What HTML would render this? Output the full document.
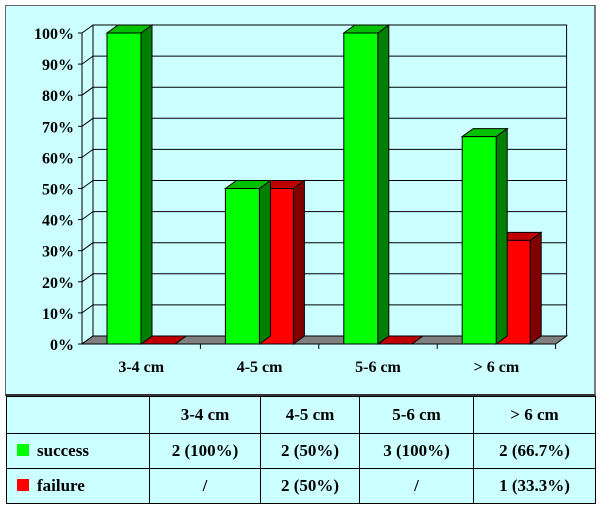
<!DOCTYPE html>
<html><head><meta charset="utf-8"><style>
body{margin:0;width:600px;height:505px;background:#fff;font-family:"Liberation Serif",serif;position:relative;overflow:hidden}
#chartbox{position:absolute;left:5px;top:5px;width:588px;height:388px;background:#ccffff;border:1px solid #666;border-right:2px solid #777;border-bottom:2px solid #333}
svg{position:absolute;left:0;top:0}
table{position:absolute;left:6px;top:396px;width:590px;height:108px;border-collapse:collapse;background:#ccffff;font-weight:bold;font-size:17px}
td{border:1px solid #000;text-align:center;padding:0}
td.l{text-align:left;padding-left:10px}
.sw{display:inline-block;width:12px;height:12px;margin-right:8px;vertical-align:0}
</style></head><body>
<div id="chartbox"></div>
<svg width="600" height="395" id="chart"></svg>
<table>
<tr style="height:37px"><td style="width:142px"></td><td style="width:110px">3-4 cm</td><td style="width:98px">4-5 cm</td><td style="width:113px">5-6 cm</td><td>&gt; 6 cm</td></tr>
<tr style="height:35px"><td class="l"><span class="sw" style="background:#00ff00"></span>success</td><td>2 (100%)</td><td>2 (50%)</td><td>3 (100%)</td><td>2 (66.7%)</td></tr>
<tr><td class="l"><span class="sw" style="background:#ff0000"></span>failure</td><td>/</td><td>2 (50%)</td><td>/</td><td>1 (33.3%)</td></tr>
</table>
<script>
const categories=["3-4 cm","4-5 cm","5-6 cm","> 6 cm"];
const success=[100,50,100,66.7];
const failure=[0,50,0,33.3];
const ticks=[0,10,20,30,40,50,60,70,80,90,100];
const svg=document.getElementById('chart');
const NS="http://www.w3.org/2000/svg";
const X0=82,CW=118.4,Y0=344,YH=311,DX=11,DY=8,BW=34;
const y=v=>Y0-v/100*YH;
function mk(t,a){const e=document.createElementNS(NS,t);for(const k in a)e.setAttribute(k,a[k]);svg.appendChild(e);return e;}
// back wall & grid
let w=mk('polygon',{points:`${X0},${Y0} ${X0+DX},${Y0-DY} ${X0+DX},${y(100)-DY} ${X0+CW*4+DX},${y(100)-DY} ${X0+CW*4+DX},${Y0-DY}`,fill:'none',stroke:'#000','stroke-width':1});


ticks.forEach(t=>{
  if(t>0&&t<100){let g=mk('line',{x1:X0+DX,x2:X0+CW*4+DX,y1:y(t)-DY,y2:y(t)-DY,stroke:'#000'});
  
  }
  mk('line',{x1:X0,x2:X0+DX,y1:y(t),y2:y(t)-DY,stroke:'#000'});
  mk('line',{x1:X0-4,x2:X0,y1:y(t),y2:y(t),stroke:'#000'});
  let l=mk('text',{x:X0-8,y:y(t)+6,'text-anchor':'end','font-size':16,'font-weight':'bold','font-family':'Liberation Serif'});
  l.textContent=t+'%';
  
  
});
mk('line',{x1:X0,x2:X0,y1:Y0,y2:y(100),stroke:'#000'});
// floor
let f=mk('polygon',{points:`${X0},${Y0} ${X0+CW*4},${Y0} ${X0+CW*4+DX},${Y0-DY} ${X0+DX},${Y0-DY}`,fill:'#808080',stroke:'#000'});


mk('line',{x1:X0,x2:X0+CW*4,y1:Y0,y2:Y0,stroke:'#000'});
function bar(x,v,front,top,side,name){
  const yt=y(v);
  const g=document.createElementNS(NS,'g');svg.appendChild(g);
  
  
  const p=(pts,fill)=>{const e=document.createElementNS(NS,'polygon');e.setAttribute('points',pts);e.setAttribute('fill',fill);e.setAttribute('stroke','#000');g.appendChild(e);};
  p(`${x+BW},${Y0} ${x+BW+DX},${Y0-DY} ${x+BW+DX},${yt-DY} ${x+BW},${yt}`,side);
  p(`${x},${yt} ${x+DX},${yt-DY} ${x+BW+DX},${yt-DY} ${x+BW},${yt}`,top);
  if(v>0)p(`${x},${Y0} ${x+BW},${Y0} ${x+BW},${yt} ${x},${yt}`,front);
}
categories.forEach((c,i)=>{
  const cx=X0+i*CW;
  bar(cx+25+BW,failure[i],'#ff0000','#c00000','#800000','bar-failure-'+i);
  bar(cx+25,success[i],'#00ff00','#00c000','#008000','bar-success-'+i);
  mk('line',{x1:cx+CW,x2:cx+CW,y1:Y0,y2:Y0+5,stroke:'#000'});
  let l=mk('text',{x:cx+CW/2,y:372,'text-anchor':'middle','font-size':16,'font-weight':'bold','font-family':'Liberation Serif'});
  l.textContent=c;
  
  
});
</script>
</body></html>
